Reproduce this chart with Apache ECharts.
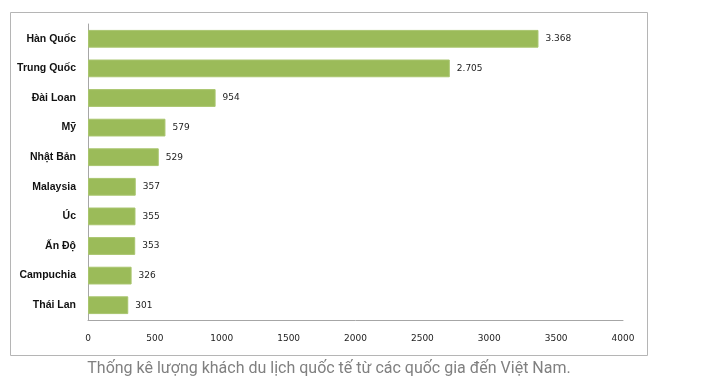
<!DOCTYPE html>
<html><head><meta charset="utf-8">
<script src="https://cdn.jsdelivr.net/npm/echarts@6/dist/echarts.min.js"></script>
<style>html,body{margin:0;padding:0;background:#fff}#c{width:705px;height:380px}</style>
</head><body><div id="c"></div>
<script>
const categories = ['Hàn Quốc','Trung Quốc','Đài Loan','Mỹ','Nhật Bản','Malaysia','Úc','Ấn Độ','Campuchia','Thái Lan'];
const values = [3368, 2705, 954, 579, 529, 357, 355, 353, 326, 301];
const xTicks = [0, 500, 1000, 1500, 2000, 2500, 3000, 3500, 4000];
const caption = 'Thống kê lượng khách du lịch quốc tế từ các quốc gia đến Việt Nam.';

const chart = echarts.init(document.getElementById('c'), null, {renderer:'canvas'});
chart.setOption({
  animation:false,
  backgroundColor:'#fff',
  grid:{left:88, right:82, top:24, bottom:60},
  xAxis:{type:'value', min:xTicks[0], max:xTicks[xTicks.length-1], interval:500,
    axisLine:{show:true, lineStyle:{color:'#a6a6a6', width:1}},
    axisTick:{show:false}, splitLine:{show:false},
    axisLabel:{margin:14, color:'#222', fontFamily:'DejaVu Sans', fontSize:9, formatter:v=>String(v)}},
  yAxis:{type:'category', data:categories, inverse:true,
    axisLine:{show:true, lineStyle:{color:'#a6a6a6', width:1}},
    axisTick:{show:false},
    axisLabel:{margin:12, color:'#111', fontFamily:'Liberation Sans', fontSize:10.5, fontWeight:'bold'}},
  series:[{type:'bar', data:values, barCategoryGap:'40%',
    itemStyle:{color:'#9bbb59', borderColor:'#a9c56e', borderWidth:1},
    label:{show:true, position:'right', distance:7, color:'#222', fontFamily:'DejaVu Sans', fontSize:9,
      formatter:p=>String(p.value).replace(/\B(?=(\d{3})+(?!\d))/g,'.')}}],
  graphic:[
    {type:'rect', shape:{x:10.5, y:12.5, width:637, height:343}, style:{fill:'none', stroke:'#b5b5b5', lineWidth:1}, z:-1},
    {type:'text', x:329, y:369, style:{text:caption, fill:'#808080', font:'16px Roboto', textAlign:'center', textVerticalAlign:'middle'}}
  ]
});
</script></body></html>
